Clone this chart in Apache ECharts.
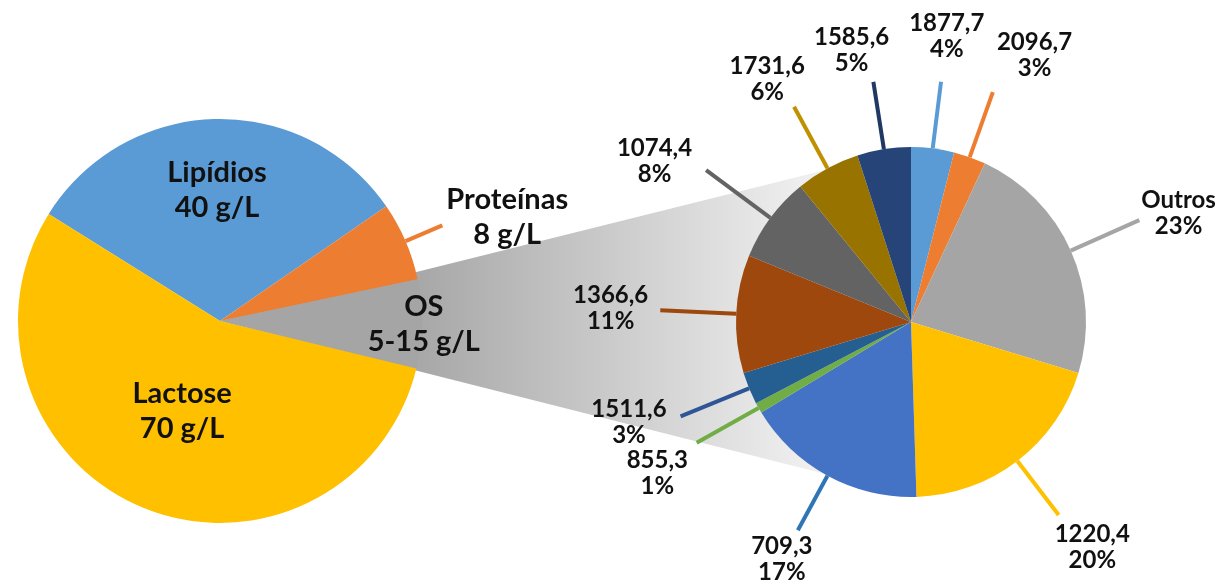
<!DOCTYPE html>
<html><head><meta charset="utf-8">
<script src="https://cdn.jsdelivr.net/npm/echarts@6/dist/echarts.min.js"></script>
<style>html,body{margin:0;padding:0;background:#fff}#chart{width:1219px;height:581px}</style>
</head><body><div id="chart"></div>
<script>
// ---------- data ----------
const milkCategories = ['Lipídios', 'Proteínas', 'OS', 'Lactose'];
const milkValues = [40, 8, 9, 70];
const milkValueText = ['40 g/L', '8 g/L', '5-15 g/L', '70 g/L'];

const osNames = ['1877,7', '2096,7', 'Outros', '1220,4', '709,3', '855,3', '1511,6', '1366,6', '1074,4', '1731,6', '1585,6'];
const osPercents = [4, 3, 23, 20, 17, 1, 3, 11, 8, 6, 5];

// ---------- styles ----------
const milkColors = ['#5b9bd5', '#ed7d31', '#a5a5a5', '#ffc000'];
const milkLabelMode = ['inside', 'outside', 'inside', 'inside'];
const milkLabelRadius = [0.63, 0, 0.98, 0.47];
const osColors = ['#5b9bd5', '#ed7d31', '#a5a5a5', '#ffc000', '#4472c4', '#70ad47', '#255e91', '#9e480e', '#636363', '#997300', '#264478'];
const osLineColors = ['#5b9bd5', '#ed7d31', '#a5a5a5', '#ffc000', '#2e75b6', '#70ad47', '#2f5597', '#9e480e', '#636363', '#bf9000', '#1f3864'];
const osLineLen = [67, 69, 75, 68, 62, 71, 74, 76, 80, 70, 68];
// label placement style: r = radial, c = corner, m = mix of both, s = side
const osLabelMode = ['r', 'c', 's', 'm', 'r', 'c', 's', 'r', 's', 'm', 'm'];
const osLabelGap = [20, 12, 2, 8, 4, 10, 14, 12, 14, 2, 6];

const LC = [220, 321], LR = 202, RC = [911, 322], RR = 175;
const CONNECT_DEG = 60; // where the connector meets the secondary pie, measured from its leftmost point
const FONT = 'Lato';

function dirOf(pts) {
  const a = pts[0], b = pts[1];
  let ux = b[0] - a[0], uy = b[1] - a[1];
  const len = Math.hypot(ux, uy) || 1;
  return [ux / len, uy / len];
}
function place(p, mode, gap) {
  const pts = p.labelLinePoints;
  if (!pts || pts.length < 2) return {};
  const b = pts[1];
  const [ux, uy] = dirOf(pts);
  const w = p.labelRect.width, h = p.labelRect.height;
  const tx = Math.abs(ux) > 1e-6 ? w / 2 / Math.abs(ux) : Infinity;
  const ty = Math.abs(uy) > 1e-6 ? h / 2 / Math.abs(uy) : Infinity;
  const t = Math.min(tx, ty);
  const radial = [b[0] + ux * (t + gap), b[1] + uy * (t + gap)];
  const corner = [b[0] + Math.sign(ux) * w / 2 + ux * gap, b[1] + Math.sign(uy) * h / 2 + uy * gap];
  const side = [b[0] + Math.sign(ux) * (w / 2 + gap), b[1] + uy * h * 0.3];
  let c = radial;
  if (mode === 'c') c = corner;
  else if (mode === 's') c = side;
  else if (mode === 'm') c = [(radial[0] + corner[0]) / 2, (radial[1] + corner[1]) / 2];
  return { x: c[0], y: c[1], align: 'center', verticalAlign: 'middle', labelLinePoints: pts };
}
function placeInside(p, k) {
  const r = p.labelRect;
  const cx = r.x + r.width / 2, cy = r.y + r.height / 2;
  const f = k / 0.5;
  return { x: LC[0] + (cx - LC[0]) * f, y: LC[1] + (cy - LC[1]) * f, align: 'center', verticalAlign: 'middle' };
}

// connector wedge from the main pie centre to the secondary pie
function connector() {
  const a = CONNECT_DEG * Math.PI / 180;
  const up = [RC[0] - RR * Math.cos(a), RC[1] - RR * Math.sin(a)];
  const dn = [RC[0] - RR * Math.cos(a), RC[1] + RR * Math.sin(a)];
  return [LC, up, RC, dn];
}

const chart = echarts.init(document.getElementById('chart'), null, { renderer: 'canvas' });
const labelBase = { color: '#111', fontFamily: FONT, fontWeight: 'bold', align: 'center' };

chart.setOption({
  animation: false,
  backgroundColor: '#fff',
  graphic: [{
    type: 'polygon', z: 0, silent: true,
    shape: { points: connector() },
    style: {
      fill: new echarts.graphic.LinearGradient(LC[0] + LR, 0, RC[0] - RR * 0.6, 0, [
        { offset: 0, color: '#a8a8a8' }, { offset: 1, color: '#efefef' }
      ], true)
    }
  }],
  series: [
    {
      type: 'pie', z: 2, center: LC, radius: LR, startAngle: 148, clockwise: true,
      avoidLabelOverlap: false, silent: true,
      itemStyle: { borderWidth: 0 },
      emphasis: { disabled: true },
      label: Object.assign({}, labelBase, {
        fontSize: 29, lineHeight: 35,
        formatter: p => p.name + '\n' + milkValueText[p.dataIndex]
      }),
      labelLayout: p => milkLabelMode[p.dataIndex] === 'outside' ? place(p, 's', 4) : placeInside(p, milkLabelRadius[p.dataIndex]),
      data: milkCategories.map((n, i) => ({
        name: n, value: milkValues[i],
        itemStyle: { color: milkColors[i], borderWidth: 0 },
        label: { position: milkLabelMode[i] },
        labelLine: { show: milkLabelMode[i] === 'outside', length: 40, length2: 0, lineStyle: { color: milkColors[i], width: 4 } }
      }))
    },
    {
      type: 'pie', z: 2, center: RC, radius: RR, startAngle: 90, clockwise: true,
      avoidLabelOverlap: false, silent: true,
      itemStyle: { borderWidth: 0 },
      emphasis: { disabled: true },
      label: Object.assign({}, labelBase, {
        position: 'outside', fontSize: 24, lineHeight: 26,
        formatter: p => osNames[p.dataIndex] + '\n' + osPercents[p.dataIndex] + '%'
      }),
      labelLayout: p => place(p, osLabelMode[p.dataIndex], osLabelGap[p.dataIndex]),
      data: osNames.map((n, i) => ({
        name: n, value: osPercents[i],
        itemStyle: { color: osColors[i], borderWidth: 0 },
        labelLine: { show: true, length: osLineLen[i], length2: 0, lineStyle: { color: osLineColors[i], width: 4 } }
      }))
    }
  ]
});
</script></body></html>
